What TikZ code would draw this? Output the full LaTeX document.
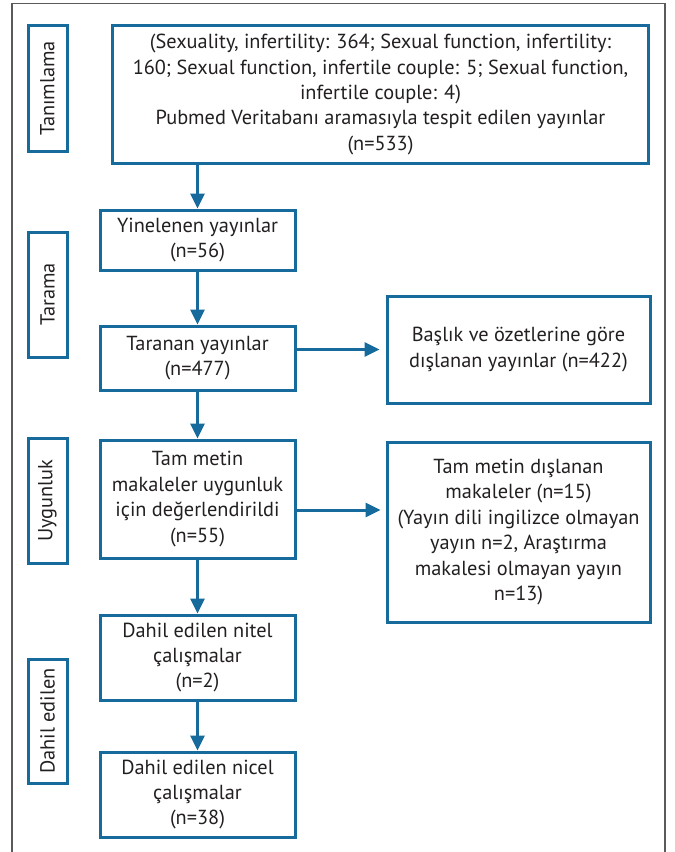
\documentclass[tikz,border=0pt]{standalone}
\usepackage{fontspec}
\setmainfont{PT Sans}
\usetikzlibrary{arrows.meta}
\definecolor{flowblue}{HTML}{176A9C}
\definecolor{inktext}{HTML}{231F20}
\definecolor{framegray}{HTML}{5A5A5A}
\tikzset{
  stagebox/.style={draw=flowblue, line width=3bp, rotate=90, minimum width=125bp, minimum height=39bp, inner sep=0pt, text=inktext},
  flowbox/.style={draw=flowblue, line width=3bp, align=center, inner sep=0pt, text=inktext},
  flowarr/.style={->, draw=flowblue, line width=3bp}
}
\begin{document}
\begin{tikzpicture}[x=1bp, y=-1bp, >={Triangle[width=14bp,length=15bp]},
  font=\fontsize{20.4}{25.5}\selectfont]
\useasboundingbox (0,0) rectangle (675,852);
\draw[framegray, line width=1.8bp](12,900)--(12,3.5)--(665,3.5)--(665,900);

% stages
\node[stagebox] (tanim) at (47.5,88.5) {Tanımlama};
\node[stagebox] (tarama) at (47.5,294.5) {Tarama};
\node[stagebox] (uygun) at (47.5,500.5) {Uygunluk};
\node[stagebox, minimum width=124bp] (dahil) at (47.5,721) {Dahil edilen};

% main column
\node[flowbox, minimum width=535bp, minimum height=137bp] (pubmed) at (380.5,94.5)
  {(Sexuality, infertility: 364; Sexual function, infertility:\\
   160; Sexual function, infertile couple: 5; Sexual function,\\
   infertile couple: 4)\\
   Pubmed Veritabanı aramasıyla tespit edilen yayınlar\\
   (n=533)};
\node[flowbox, minimum width=195bp, minimum height=60bp] (yinel) at (197.5,240)
  {Yinelenen yayınlar\\(n=56)};
\node[flowbox, minimum width=195bp, minimum height=64bp] (taran) at (197.5,358)
  {Taranan yayınlar\\(n=477)};
\node[flowbox, minimum width=195bp, minimum height=118bp] (tammetin) at (197.5,499)
  {Tam metin\\makaleler uygunluk\\için değerlendirildi\\(n=55)};
\node[flowbox, minimum width=195bp, minimum height=85bp] (nitel) at (197.5,657.5)
  {Dahil edilen nitel\\çalışmalar\\(n=2)};
\node[flowbox, minimum width=195bp, minimum height=85bp] (nicel) at (197.5,794.5)
  {Dahil edilen nicel\\çalışmalar\\(n=38)};

% excluded
\node[flowbox, minimum width=263bp, minimum height=107bp] (baslik) at (518.5,349.5)
  {Başlık ve özetlerine göre\\dışlanan yayınlar (n=422)};
\node[flowbox, minimum width=263bp, minimum height=180bp] (disl) at (518.5,532)
  {Tam metin dışlanan\\makaleler (n=15)\\(Yayın dili ingilizce olmayan\\yayın n=2, Araştırma\\makalesi olmayan yayın\\n=13)};

\draw[flowarr](yinel.north |- pubmed.south)--(yinel.north);
\draw[flowarr](yinel)--(taran);
\draw[flowarr](taran)--(tammetin);
\draw[flowarr](tammetin)--(nitel);
\draw[flowarr](nitel)--(nicel);
\draw[flowarr, shorten >=6bp](taran.east |- baslik.west)--(baslik.west);
\draw[flowarr, shorten >=5bp]([yshift=-11bp]tammetin.east)--([yshift=-11bp]tammetin.east -| disl.west);
\end{tikzpicture}
\end{document}
